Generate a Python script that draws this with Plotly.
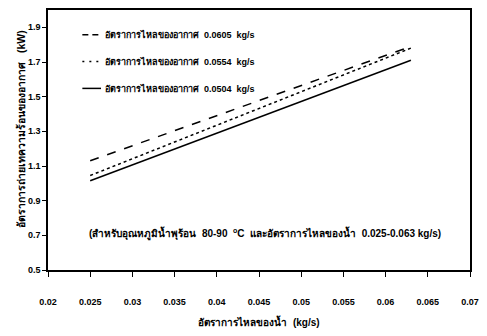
import plotly.graph_objects as go

# Water mass flow rate (kg/s) at the ends of each fitted line
water_flow = [0.025, 0.063]

# Air-side heat transfer rate (kW) for each air mass flow rate
heat_0605 = [1.13, 1.79]
heat_0554 = [1.045, 1.78]
heat_0504 = [1.015, 1.71]

series_names = [
    "อัตราการไหลของอากาศ  0.0605  kg/s",
    "อัตราการไหลของอากาศ  0.0554  kg/s",
    "อัตราการไหลของอากาศ  0.0504  kg/s",
]
series_values = [heat_0605, heat_0554, heat_0504]
series_dash = ["dash", "dot", "solid"]

x_ticks = [0.02, 0.025, 0.03, 0.035, 0.04, 0.045, 0.05, 0.055, 0.06, 0.065, 0.07]
x_tick_text = ["0.02", "0.025", "0.03", "0.035", "0.04", "0.045", "0.05", "0.055", "0.06", "0.065", "0.07"]
y_ticks = [0.5, 0.7, 0.9, 1.1, 1.3, 1.5, 1.7, 1.9]
y_tick_text = ["0.5", "0.7", "0.9", "1.1", "1.3", "1.5", "1.7", "1.9"]

FONT = "Arial, Liberation Sans, sans-serif"
W, H = 487, 336
ML, MR, MT, MB = 48, 9, 8, 66
PW, PH = W - ML - MR, H - MT - MB


def px_to_paper(px, py):
    return (px - ML) / PW, (H - MB - py) / PH


fig = go.Figure()
for name, vals, dash in zip(series_names, series_values, series_dash):
    fig.add_trace(go.Scatter(
        x=water_flow, y=vals, mode="lines", name=name, showlegend=False,
        line=dict(color="black", width=1.5, dash=dash),
    ))

# Hand-built legend: short line sample followed by its label
legend_rows = [33, 60, 87]
legend_dash = {"dash": "6px,4px", "dot": "2px,5px", "solid": "solid"}
for name, dash, row in zip(series_names, series_dash, legend_rows):
    x0, y0 = px_to_paper(83, row)
    x1, _ = px_to_paper(102, row)
    fig.add_shape(type="line", xref="paper", yref="paper", x0=x0, x1=x1, y0=y0, y1=y0,
                  line=dict(color="black", width=1.5, dash=legend_dash[dash]))
    tx, _ = px_to_paper(104, row)
    fig.add_annotation(x=tx, y=y0, xref="paper", yref="paper", xanchor="left", yanchor="middle",
                       showarrow=False, text=name,
                       font=dict(family=FONT, size=9, color="black", weight="bold"))

fig.add_annotation(
    x=0.0457, y=0.71, xref="x", yref="y", showarrow=False,
    text="(สำหรับอุณหภูมิน้ำพุร้อน  80-90  <sup>o</sup>C  และอัตราการไหลของน้ำ  0.025-0.063 kg/s)",
    font=dict(family=FONT, size=10, color="black", weight="bold"),
)

yt_x, yt_y = px_to_paper(12, 128)
fig.add_annotation(
    x=yt_x, y=yt_y, xref="paper", yref="paper", showarrow=False, textangle=-90,
    text="อัตราการถ่ายเทความร้อนของอากาศ   (kW)",
    font=dict(family=FONT, size=10.5, color="black", weight="bold"),
)

fig.update_layout(
    width=W, height=H,
    margin=dict(l=ML, r=MR, t=MT, b=MB),
    paper_bgcolor="white", plot_bgcolor="white",
    font=dict(family=FONT, size=9, color="black"),
    showlegend=False,
    xaxis=dict(
        range=[0.02, 0.07], tickvals=x_ticks, ticktext=x_tick_text,
        showgrid=False, zeroline=False,
        showline=True, linecolor="black", linewidth=1.5, mirror=True,
        ticks="outside", ticklen=5, tickwidth=1, tickcolor="black",
        ticklabelstandoff=17,
        tickfont=dict(family=FONT, size=9, color="black", weight="bold"),
        title=dict(text="อัตราการไหลของน้ำ  (kg/s)", standoff=13,
                   font=dict(family=FONT, size=10, color="black", weight="bold")),
    ),
    yaxis=dict(
        range=[0.5, 2.0], tickvals=y_ticks, ticktext=y_tick_text,
        showgrid=False, zeroline=False,
        showline=True, linecolor="black", linewidth=1.5, mirror=True,
        ticks="outside", ticklen=4, tickwidth=1, tickcolor="black",
        tickfont=dict(family=FONT, size=9, color="black", weight="bold"),
    ),
)

fig.write_html("out.html")
